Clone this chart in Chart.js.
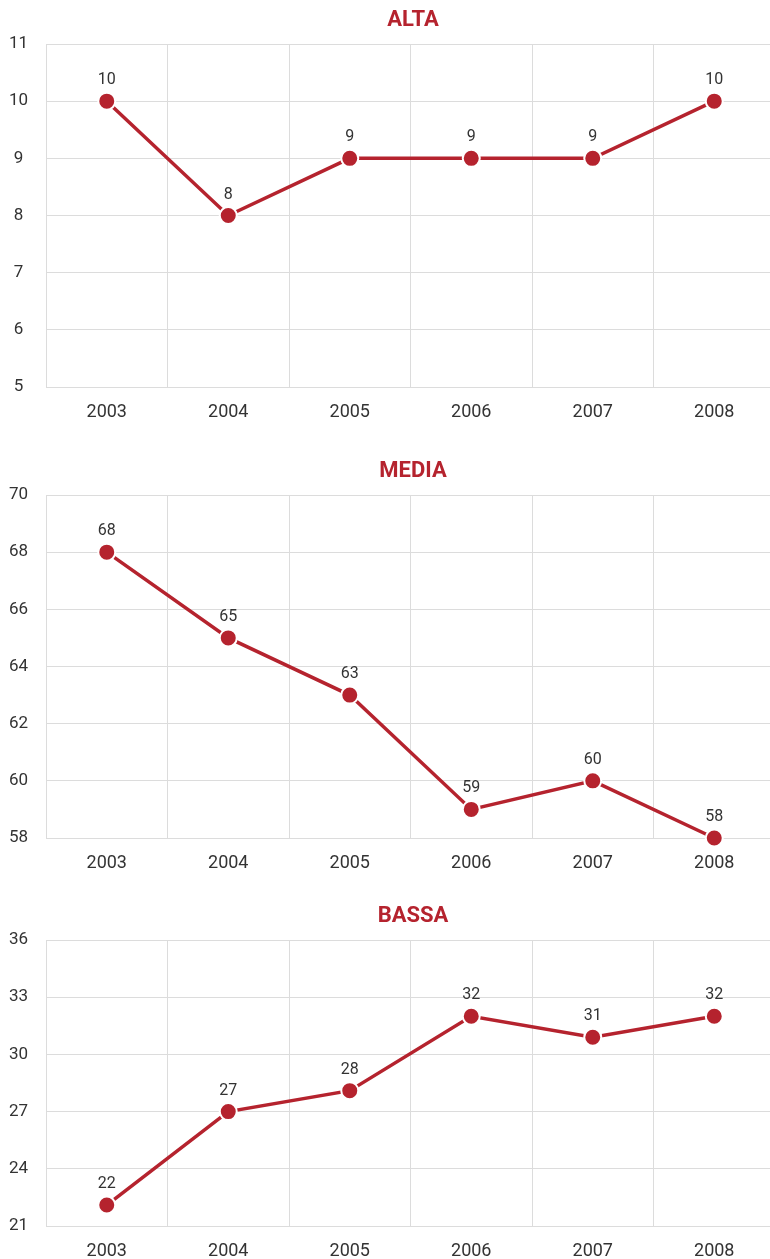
<!DOCTYPE html>
<html>
<head>
<meta charset="utf-8">
<script src="https://cdn.jsdelivr.net/npm/chart.js@4.4.1/dist/chart.umd.min.js"></script>
<style>
  html, body { margin: 0; padding: 0; background: #fff; width: 770px; height: 1259px; overflow: hidden; }
  .panel { position: absolute; left: 0; width: 775px; }
</style>
</head>
<body>
<div class="panel" style="top:0px;height:440px"><canvas id="c1"></canvas></div>
<div class="panel" style="top:450px;height:440px"><canvas id="c2"></canvas></div>
<div class="panel" style="top:900px;height:359px"><canvas id="c3"></canvas></div>
<script>
const years = ['2003', '2004', '2005', '2006', '2007', '2008'];
const altaTitle = 'ALTA';
const altaValues = [10, 8, 9, 9, 9, 10];
const mediaTitle = 'MEDIA';
const mediaValues = [68, 65, 63, 59, 60, 58];
const bassaTitle = 'BASSA';
const bassaValues = [22.1, 27, 28.1, 32, 30.9, 32];

const RED = '#b5232e';
const GRID = '#dcdcdc';
const TEXT = '#333333';
const FONT = 'Roboto, "Liberation Sans", sans-serif';
const TITLE_FONT = '"Liberation Sans Narrow", "Roboto", sans-serif';

const labelPlugin = {
  id: 'labelsAndTitle',
  afterDatasetsDraw(chart, args, opts) {
    const ctx = chart.ctx;
    ctx.save();
    const meta = chart.getDatasetMeta(0);
    ctx.fillStyle = TEXT;
    ctx.font = '16px ' + FONT;
    ctx.textAlign = 'center';
    ctx.textBaseline = 'middle';
    meta.data.forEach((pt, i) => {
      const v = chart.data.datasets[0].data[i];
      ctx.fillText(String(Math.round(v)), pt.x, pt.y - 21);
    });
    ctx.fillStyle = RED;
    ctx.font = 'bold 22px ' + TITLE_FONT;
    ctx.fillText(opts.text, 413, opts.y);
    ctx.restore();
  }
};

function makeChart(id, title, values, min, max, step, height, padTop, xHeight, titleY) {
  const canvas = document.getElementById(id);
  canvas.width = 775;
  canvas.height = height;
  canvas.style.width = '775px';
  canvas.style.height = height + 'px';
  return new Chart(canvas, {
    type: 'line',
    data: {
      labels: years,
      datasets: [{
        data: values,
        borderColor: RED,
        borderWidth: 3.5,
        pointBackgroundColor: RED,
        pointBorderColor: '#ffffff',
        pointBorderWidth: 2,
        pointRadius: 8.5,
        pointHoverRadius: 8.5,
        tension: 0,
        clip: false
      }]
    },
    options: {
      responsive: false,
      maintainAspectRatio: false,
      animation: false,
      events: [],
      layout: { autoPadding: false, padding: { top: padTop, left: 0, right: 0, bottom: 0 } },
      plugins: {
        legend: { display: false },
        tooltip: { enabled: false },
        title: { display: false },
        labelsAndTitle: { text: title, y: titleY }
      },
      scales: {
        x: {
          offset: true,
          grid: { color: GRID, offset: true, drawTicks: false, lineWidth: 1 },
          border: { color: GRID },
          ticks: { color: TEXT, font: { family: FONT, size: 18 }, padding: 15, maxRotation: 0 },
          afterFit(scale) { scale.height = xHeight; }
        },
        y: {
          min: min,
          max: max,
          grid: { color: GRID, drawTicks: false, lineWidth: 1 },
          border: { color: GRID },
          ticks: { stepSize: step, color: TEXT, font: { family: FONT, size: 17 }, padding: 18, crossAlign: 'center' },
          afterFit(scale) { scale.width = 46; }
        }
      }
    },
    plugins: [labelPlugin]
  });
}

makeChart('c1', altaTitle, altaValues, 5, 11, 1, 440, 44, 53, 20);
makeChart('c2', mediaTitle, mediaValues, 58, 70, 2, 440, 45, 52, 21);
makeChart('c3', bassaTitle, bassaValues, 21, 36, 3, 359, 40, 33, 16);
</script>
</body>
</html>
